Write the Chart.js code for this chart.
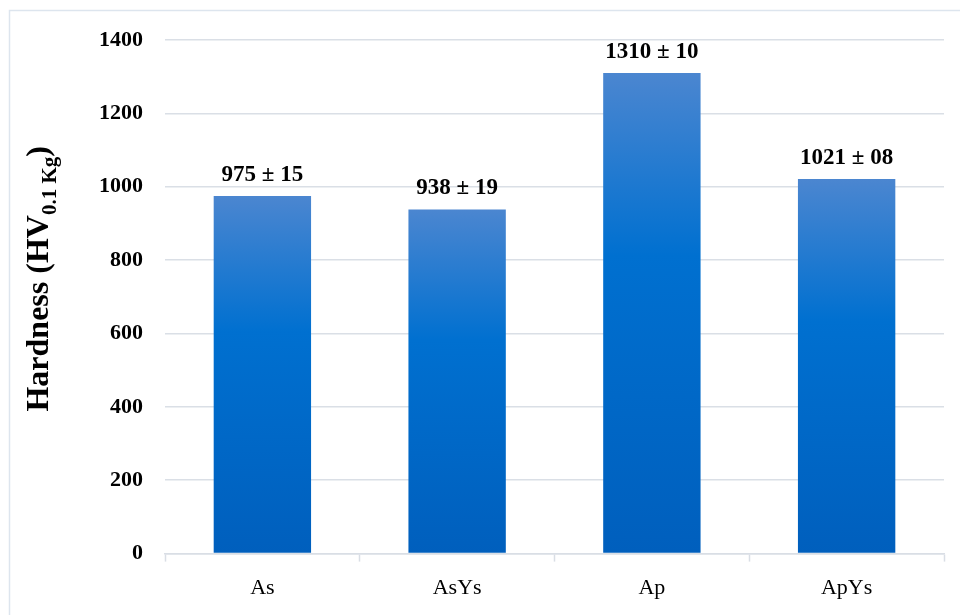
<!DOCTYPE html>
<html>
<head>
<meta charset="utf-8">
<script src="https://cdn.jsdelivr.net/npm/chart.js@4/dist/chart.umd.min.js"></script>
<style>
  html, body { margin: 0; padding: 0; background: #ffffff; }
  #wrap { position: relative; width: 960px; height: 615px; }
</style>
</head>
<body>
<div id="wrap"><canvas id="chart" width="960" height="615"></canvas></div>
<script>
// Vickers hardness of the four coatings
const categories = ['As', 'AsYs', 'Ap', 'ApYs'];
const hardness = [975, 938, 1310, 1021];
const deviation = ['15', '19', '10', '08'];
const yTicks = [0, 200, 400, 600, 800, 1000, 1200, 1400];

const SERIF = '"Liberation Serif", "DejaVu Serif", serif';

// Per-bar vertical gradient: light blue at the top, deep blue at the base
function barGradient(context) {
  const chart = context.chart;
  const y = chart.scales.y;
  if (!y || context.dataIndex === undefined) return '#0070d0';
  const v = context.dataset.data[context.dataIndex];
  const top = y.getPixelForValue(v);
  const base = y.getPixelForValue(0);
  if (!isFinite(top) || !isFinite(base) || top === base) return '#0070d0';
  const g = chart.ctx.createLinearGradient(0, top, 0, base);
  g.addColorStop(0, '#4b86d0');
  g.addColorStop(0.38, '#0070d0');
  g.addColorStop(1, '#005fbd');
  return g;
}

// Frame line along the top and left edges
const framePlugin = {
  id: 'frame',
  beforeDraw(chart) {
    const ctx = chart.ctx;
    ctx.save();
    ctx.strokeStyle = '#dde5ee';
    ctx.lineWidth = 1.5;
    ctx.beginPath();
    ctx.moveTo(9.5, chart.height);
    ctx.lineTo(9.5, 10.5);
    ctx.lineTo(chart.width, 10.5);
    ctx.stroke();
    ctx.restore();
  }
};

// Rotated axis title with subscript
const yTitlePlugin = {
  id: 'yTitle',
  afterDraw(chart) {
    const ctx = chart.ctx;
    const area = chart.chartArea;
    ctx.save();
    ctx.fillStyle = '#000000';
    ctx.textBaseline = 'alphabetic';
    const main = 'Hardness (HV';
    const sub = '0.1 Kg';
    const close = ')';
    const mainFont = 'bold 32px ' + SERIF;
    const subFont = 'bold 21px ' + SERIF;
    ctx.font = mainFont;
    const wMain = ctx.measureText(main).width;
    const wClose = ctx.measureText(close).width;
    ctx.font = subFont;
    const wSub = ctx.measureText(sub).width;
    const total = wMain + wSub + wClose;
    const cx = 48;
    const cy = (area.top + area.bottom) / 2 - 18;
    ctx.translate(cx, cy);
    ctx.rotate(-Math.PI / 2);
    let x = -total / 2;
    ctx.textAlign = 'left';
    ctx.font = mainFont;
    ctx.fillText(main, x, 0);
    x += wMain;
    ctx.font = subFont;
    ctx.fillText(sub, x, 8);
    x += wSub;
    ctx.font = mainFont;
    ctx.fillText(close, x, 0);
    ctx.restore();
  }
};

// "value ± deviation" above each bar
const valueLabelPlugin = {
  id: 'valueLabels',
  afterDatasetsDraw(chart) {
    const ctx = chart.ctx;
    const meta = chart.getDatasetMeta(0);
    ctx.save();
    ctx.font = 'bold 23px ' + SERIF;
    ctx.fillStyle = '#000000';
    ctx.textAlign = 'center';
    ctx.textBaseline = 'alphabetic';
    meta.data.forEach((bar, i) => {
      ctx.fillText(hardness[i] + ' \u00b1 ' + deviation[i], bar.x, bar.y - 15);
    });
    ctx.restore();
  }
};

new Chart(document.getElementById('chart'), {
  type: 'bar',
  data: {
    labels: categories,
    datasets: [{
      data: hardness,
      backgroundColor: barGradient,
      borderWidth: 0,
      categoryPercentage: 1.0,
      barPercentage: 0.5
    }]
  },
  options: {
    responsive: false,
    animation: false,
    events: [],
    layout: { padding: { top: 40, right: 16, bottom: 1, left: 0 } },
    plugins: {
      legend: { display: false },
      tooltip: { enabled: false }
    },
    scales: {
      x: {
        offset: true,
        grid: {
          offset: true,
          drawOnChartArea: false,
          drawTicks: true,
          tickLength: 8,
          tickWidth: 1.5,
          tickColor: '#d9dee5'
        },
        border: { display: true, color: '#d9dee5', width: 1.5 },
        ticks: {
          color: '#000000',
          font: { family: SERIF, size: 22 },
          padding: 13
        }
      },
      y: {
        min: 0,
        max: 1400,
        afterFit(scale) { scale.width = 165; },
        afterBuildTicks(scale) { scale.ticks = yTicks.map(v => ({ value: v })); },
        grid: {
          drawTicks: false,
          color: '#dadfe6',
          lineWidth: 1.5
        },
        border: { display: false },
        ticks: {
          color: '#000000',
          font: { family: SERIF, size: 22, weight: 'bold' },
          padding: 22,
          callback: (v) => String(v)
        }
      }
    }
  },
  plugins: [framePlugin, yTitlePlugin, valueLabelPlugin]
});
</script>
</body>
</html>
